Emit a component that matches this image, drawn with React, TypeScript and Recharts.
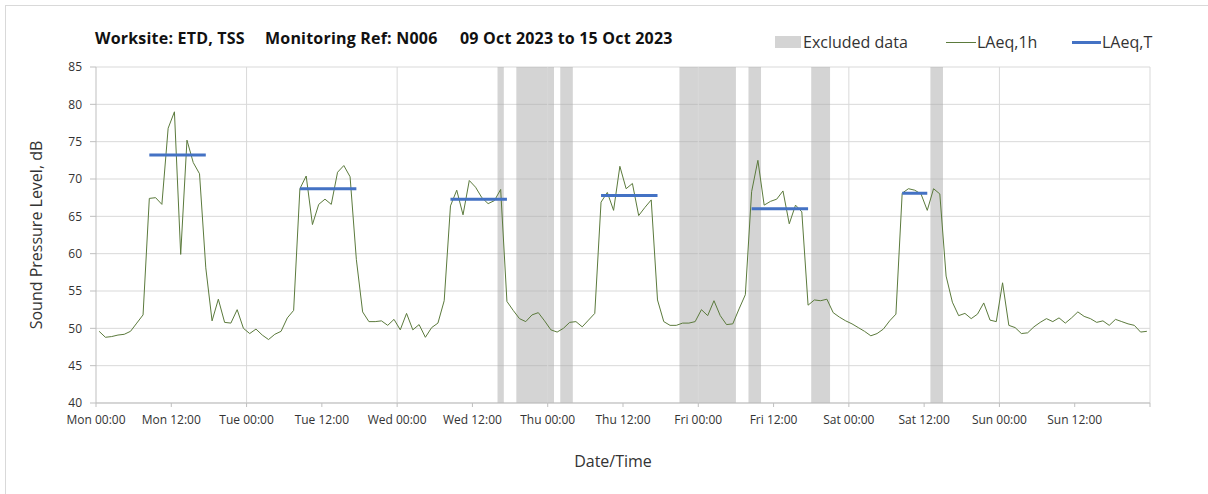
import {
  ComposedChart,
  Line,
  XAxis,
  YAxis,
  CartesianGrid,
  ReferenceArea,
  ReferenceLine,
} from "recharts"

const FONT = "'Open Sans', 'Noto Sans', sans-serif"

// hourly LAeq,1h readings, Mon 09 Oct 00:00 -> Sun 15 Oct 23:00
const HOURLY_LAEQ = [
  49.6, 48.8, 48.9, 49.1, 49.2, 49.6, 50.7, 51.8, 67.4, 67.5, 66.6, 76.8,
  79.0, 59.9, 75.2, 72.2, 70.7, 58.1, 51.0, 53.9, 50.8, 50.7, 52.5, 50.0,
  49.3, 49.9, 49.1, 48.5, 49.2, 49.6, 51.4, 52.4, 68.7, 70.4, 63.9, 66.6,
  67.3, 66.6, 70.9, 71.8, 70.3, 59.2, 52.2, 50.9, 50.9, 51.0, 50.4, 51.2,
  49.8, 52.0, 49.8, 50.5, 48.8, 50.1, 50.7, 53.7, 66.4, 68.5, 65.2, 69.8,
  68.9, 67.5, 66.7, 67.1, 68.6, 53.6, 52.4, 51.3, 50.9, 51.8, 52.1, 51.0,
  49.8, 49.5, 50.0, 50.8, 50.9, 50.2, 51.1, 52.0, 66.9, 68.2, 65.8, 71.7,
  68.7, 69.4, 65.1, 66.2, 67.2, 53.8, 50.9, 50.4, 50.4, 50.7, 50.7, 50.9,
  52.5, 51.7, 53.7, 51.7, 50.5, 50.6, 52.6, 54.5, 68.3, 72.5, 66.5, 67.0,
  67.3, 68.4, 64.0, 66.5, 65.6, 53.1, 53.8, 53.7, 53.9, 52.1, 51.5, 51.0,
  50.6, 50.1, 49.6, 49.0, 49.3, 49.9, 51.0, 51.9, 68.1, 68.7, 68.5, 68.0,
  65.8, 68.7, 68.0, 57.0, 53.5, 51.7, 52.0, 51.3, 51.9, 53.4, 51.1, 50.9,
  56.1, 50.4, 50.1, 49.3, 49.4, 50.2, 50.8, 51.3, 50.9, 51.4, 50.7, 51.4,
  52.2, 51.6, 51.3, 50.8, 51.0, 50.4, 51.2, 50.9, 50.6, 50.4, 49.5, 49.6,
]

// LAeq,T over each daytime period (first hour, last hour, level)
const PERIOD_START = [8, 32, 56, 80, 104, 128]
const PERIOD_END = [17, 41, 65, 89, 113, 132]
const PERIOD_LAEQ_T = [73.2, 68.7, 67.3, 67.8, 66.0, 68.1]

// excluded data spans, hours from Mon 00:00
const EXCLUDED_FROM = [64, 67, 74, 93, 104, 114, 133]
const EXCLUDED_TO = [65, 73, 76, 102, 106, 117, 135]

const DAY_NAMES = ["Mon", "Tue", "Wed", "Thu", "Fri", "Sat", "Sun"]
const X_TICKS = [0, 12, 24, 36, 48, 60, 72, 84, 96, 108, 120, 132, 144, 156, 168]
const DAY_LINES = [24, 48, 72, 96, 120, 144, 168]
const Y_TICKS = [40, 45, 50, 55, 60, 65, 70, 75, 80, 85]

const chartData = HOURLY_LAEQ.map((v, i) => {
  const p = PERIOD_START.findIndex((s, k) => i >= s && i <= PERIOD_END[k])
  return {
    hour: i + 0.5,
    laeq1h: v,
    laeqT: p >= 0 ? PERIOD_LAEQ_T[p] : null,
  }
})

function formatHour(h: number) {
  if (h >= 168) return ""
  const day = DAY_NAMES[Math.floor(h / 24)]
  return `${day} ${h % 24 === 0 ? "00" : "12"}:00`
}

const titleStyle = {
  position: "absolute" as const,
  top: 27,
  fontSize: 16,
  fontWeight: 700,
  letterSpacing: 0.2,
  color: "#111",
  whiteSpace: "nowrap" as const,
}

const legendText = {
  position: "absolute" as const,
  top: 31,
  fontSize: 16,
  color: "#333",
  whiteSpace: "nowrap" as const,
}

export default function App() {
  return (
    <div style={{ position: "absolute", left: 0, top: 0, width: 1208, height: 494, fontFamily: FONT, overflow: "hidden", background: "#fff" }}>
      <div style={{ position: "absolute", left: 5, top: 5, width: 1220, height: 510, border: "1px solid #d9d9d9" }} />

      {/* title */}
      <div style={{ ...titleStyle, left: 95 }}>Worksite: ETD, TSS</div>
      <div style={{ ...titleStyle, left: 265 }}>Monitoring Ref: N006</div>
      <div style={{ ...titleStyle, left: 460 }}>09 Oct 2023 to 15 Oct 2023</div>

      {/* legend */}
      <div style={{ position: "absolute", left: 775, top: 36, width: 26, height: 12, background: "#d4d4d4" }} />
      <div style={{ ...legendText, left: 803 }}>Excluded data</div>
      <div style={{ position: "absolute", left: 946, top: 42, width: 30, height: 1, background: "#5b7a3c" }} />
      <div style={{ ...legendText, left: 977 }}>LAeq,1h</div>
      <div style={{ position: "absolute", left: 1072, top: 41, width: 29, height: 3, background: "#4472c4" }} />
      <div style={{ ...legendText, left: 1102 }}>LAeq,T</div>

      {/* axis titles */}
      <div style={{ position: "absolute", left: 36, top: 235, transform: "translate(-50%, -50%) rotate(-90deg)", fontSize: 16, color: "#333", whiteSpace: "nowrap" }}>
        Sound Pressure Level, dB
      </div>
      <div style={{ position: "absolute", left: 613, top: 461, transform: "translate(-50%, -50%)", fontSize: 16, color: "#333", whiteSpace: "nowrap" }}>
        Date/Time
      </div>

      <div style={{ position: "absolute", left: 0, top: 0 }}>
        <ComposedChart width={1208} height={494} data={chartData} margin={{ top: 67, right: 58, bottom: 61, left: 36 }}>
          <CartesianGrid vertical={false} stroke="#d9d9d9" />
          {EXCLUDED_FROM.map((x1, k) => (
            <ReferenceArea key={k} x1={x1} x2={EXCLUDED_TO[k]} y1={40} y2={85} fill="#a9a9a9" fillOpacity={0.5} stroke="none" />
          ))}
          {DAY_LINES.map((x) => (
            <ReferenceLine key={x} x={x} stroke="#d9d9d9" />
          ))}
          <XAxis
            type="number"
            dataKey="hour"
            domain={[0, 168]}
            ticks={X_TICKS}
            interval={0}
            tickFormatter={formatHour}
            tickSize={4}
            tickMargin={8}
            height={30}
            stroke="#bfbfbf"
            tick={{ fontSize: 12, fill: "#333", fontFamily: FONT }}
          />
          <YAxis
            type="number"
            domain={[40, 85]}
            ticks={Y_TICKS}
            interval={0}
            width={60}
            tickSize={6}
            tickMargin={8}
            stroke="#bfbfbf"
            tick={{ fontSize: 12, fill: "#333", fontFamily: FONT }}
          />
          <Line type="linear" dataKey="laeq1h" stroke="#5b7a3c" strokeWidth={1} dot={false} isAnimationActive={false} />
          <Line type="linear" dataKey="laeqT" stroke="#4472c4" strokeWidth={3} dot={false} isAnimationActive={false} connectNulls={false} />
        </ComposedChart>
      </div>
    </div>
  )
}
